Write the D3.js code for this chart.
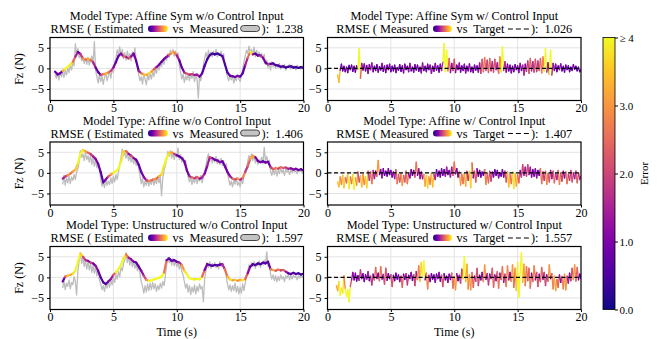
<!DOCTYPE html>
<html>
<head>
<meta charset="utf-8">
<script src="https://cdn.jsdelivr.net/npm/d3@7"></script>
<style>
  body { margin: 0; background: #fff; overflow: hidden }
  text { font-family: 'Liberation Serif', 'Times New Roman', serif; fill: #000 }
</style>
</head>
<body>
<svg id="chart" width="662" height="339"></svg>
<script>
// ---- data ----
const modelTitles = [
  'Model Type: Affine Sym w/o Control Input', 'Model Type: Affine Sym w/ Control Input',
  'Model Type: Affine w/o Control Input', 'Model Type: Affine w/ Control Input',
  'Model Type: Unstructured w/o Control Input', 'Model Type: Unstructured w/ Control Input'
]
const rmseValues = ['1.238', '1.026', '1.406', '1.407', '1.597', '1.557']
const xTicks = [0, 5, 10, 15, 20]
const yTicks = [-5, 0, 5]
const errorTicks = [0, 1, 2, 3, 4]

// start time of each series, sample step 0.2 s (estimated, error) and 0.1 s (measured, controlled)
const estStart = [0.4, 1.0, 1.0]
const measStart = [0.4, 1.0, 1.0]
const ctrlStart = [0.8, 0.8, 0.7]

// Affine Sym w/o control
const symEst = [-0.8, -1.5, -1.2, -0.6, -0.1, 0.4, 0.9, 1.6, 2.8, 4.0,
  3.5, 2.4, 2.1, 2.3, 2.0, 1.5, 0.2, -0.9, -1.6, -1.4,
  -1.3, -1.0, -0.6, 0.2, 1.5, 3.0, 3.6, 2.9, 2.8, 2.4,
  2.9, 3.6, 1.8, -0.6, -1.2, -1.5, -1.6, -1.2, -0.8, -0.2,
  0.3, 0.9, 1.6, 2.3, 2.8, 3.3, 3.8, 3.9, 3.2, 2.0,
  0.2, -1.0, -1.3, -1.5, -1.4, -1.6, -1.5, -2.0, -1.2, 0.6,
  2.2, 3.2, 3.6, 3.4, 3.6, 3.3, 3.0, 1.0, -1.0, -1.8,
  -1.9, -2.1, -1.8, -2.0, -1.2, 0.8, 2.6, 4.0, 3.4, 3.6,
  3.1, 3.2, 2.6, 1.4, 1.0, 1.1, 1.2, 0.8, 0.7, 0.4,
  0.5, 0.2, 0.4, 0.5, 0.2, 0.3, 0.1, 0.3, 0.1]
const symErr = [0.8, 0.8, 0.8, 3.5, 4, 4, 3.8, 2.5, 1.5, 0.8,
  1.8, 3.0, 2.6, 3.2, 2.4, 1.5, 0.8, 0.6, 2.0, 2.8,
  3.3, 2.5, 1.8, 1.0, 0.6, 0.7, 1.2, 2.5, 1.5, 2.2,
  1.2, 0.9, 0.7, 1.5, 2.8, 3.5, 3.2, 3.8, 3.0, 2.2,
  1.2, 0.8, 0.7, 0.9, 1.2, 2.6, 3.4, 2.8, 1.4, 0.7,
  0.8, 1.8, 2.4, 1.6, 2.0, 1.2, 1.4, 0.8, 0.6, 0.5,
  0.4, 0.5, 0.4, 0.3, 0.5, 0.4, 0.6, 0.5, 0.7, 0.9,
  0.6, 0.8, 1.2, 0.6, 0.7, 1.5, 2.5, 4, 1.2, 0.6,
  0.8, 1.6, 1.0, 0.6, 1.8, 0.6, 0.5, 0.6, 0.5, 0.4,
  0.5, 0.3, 0.4, 0.5, 0.3, 0.4, 0.3, 0.4, 0.3]
const symMeas = [-1.5, -2.4, -1.0, -2.8, -1.2, -2.0,
  -0.8, -2.2, -0.5, -1.6, 0.2, -1.0, 0.8, -0.4, 1.5, 0.6,
  6.0, 3.2, 4.8, 2.6, 3.4, 1.8, 2.8, 1.2, 2.5, 1.0,
  2.6, 0.8, 2.2, 3.0, 1.0, 6.5, -0.5, -2.0, -3.6, -1.4,
  -3.2, -1.8, -3.9, -2.2, -1.0, -3.0, -1.8, -0.6, -2.4, -0.2,
  -1.0, 1.4, 2.5, 4.5, 3.2, 5.2, 3.0, 4.6, 2.4, 3.8,
  2.0, 4.2, 2.6, 3.6, 1.8, 4.0, 2.8, 5.0, 1.5, 0.2,
  -1.6, -3.0, -2.0, -3.8, -1.4, -2.6, -4.0, -1.6, -2.8, -1.2,
  -2.6, -0.8, -2.0, 0.0, -1.2, 0.6, -0.4, 1.2, 0.4, 2.0,
  1.0, 2.8, 2.0, 3.6, 2.6, 4.4, 3.4, 4.6, 3.0, 4.2,
  2.6, 3.8, 0.8, -1.0, -2.6, -1.4, -3.4, -1.8, -2.8, -1.2,
  -3.0, -1.6, -2.4, -0.8, -3.2, -1.4, -2.6, -7.2, -1.8, -3.0,
  -1.2, 0.8, 2.4, 3.8, 2.6, 4.4, 3.0, 4.0, 2.8, 4.2,
  3.2, 4.6, 2.8, 3.8, 3.2, 4.2, 2.4, 3.6, 1.0, -0.8,
  -2.0, -3.0, -1.6, -2.8, -1.8, -3.6, -2.2, -3.0, -1.6, -2.6,
  -3.2, -1.8, -0.2, 1.6, 3.0, 4.4, 3.6, 5.4, 3.8, 4.6,
  3.2, 5.2, 2.8, 4.4, 3.0, 4.0, 2.6, 3.6, 2.2, 3.4,
  1.0, 2.0, 0.2, 1.4, -0.4, 1.6, 0.4, 1.2, 0.0, 1.0,
  0.2, 1.2, -0.2, 0.8, 0.0, 1.0, -0.4, 0.6, 0.2, 1.0,
  -0.2, 0.8, 0.0, 0.6, -0.4, 0.8, 0.2, 0.4, -0.2, 0.6,
  0.2]

// Affine w/o control
const affEst = [-1.4, -0.9, -0.6, -0.2, 0.3, 0.8, 2.3, 4.6, 5.6, 5.2,
  4.9, 4.6, 4.0, 3.4, 2.2, 0.2, -2.3, -1.6, -0.9, -0.4,
  0.0, 0.4, 1.0, 2.8, 5.2, 5.3, 4.6, 4.2, 3.6, 3.2,
  2.0, 0.2, -1.0, -1.8, -2.0, -1.8, -1.6, -1.4, -0.8, -0.4,
  1.8, 3.6, 4.8, 5.0, 4.6, 4.3, 4.0, 3.6, 2.8, 0.6,
  -0.8, -1.1, -1.3, -1.0, -1.4, -1.1, -0.2, 1.6, 3.8, 3.6,
  3.2, 3.0, 2.6, 2.8, 1.6, 0.2, -0.8, -1.4, -1.6, -1.4,
  -1.7, -1.2, 0.2, 1.6, 3.4, 4.2, 3.8, 2.9, 2.6, 2.8,
  2.5, 2.7, 1.4, 0.9, 1.2, 1.0, 1.4, 1.2, 1.3, 1.0,
  1.1, 0.8, 1.0, 0.7, 0.9, 0.6]
const affErr = [1.4, 2.0, 3.0, 2.6, 3.2, 3.6, 4, 4, 3.6, 3.0,
  2.4, 1.8, 1.4, 1.0, 0.8, 0.6, 0.7, 1.2, 2.4, 3.2,
  4, 4, 4, 3.8, 3.6, 2.4, 1.2, 2.0, 1.0, 0.8,
  0.7, 0.8, 1.2, 2.2, 2.8, 2.4, 3.0, 2.6, 3.4, 3.8,
  4, 4, 3.6, 3.0, 1.8, 0.9, 0.7, 0.8, 0.9, 0.8,
  1.6, 2.6, 1.8, 2.4, 1.2, 1.6, 1.0, 1.4, 2.0, 1.0,
  0.8, 0.9, 1.2, 0.8, 0.9, 1.0, 1.4, 2.6, 2.0, 3.0,
  1.6, 2.8, 1.8, 2.4, 3.2, 3.0, 1.0, 0.8, 0.9, 0.7,
  0.8, 0.9, 1.8, 2.4, 2.8, 2.0, 2.6, 2.2, 1.8, 1.4,
  1.0, 1.2, 0.9, 0.8, 0.7, 0.8]
const affMeas = [-2.8, -0.6, -3.0, -1.2, -2.4, -0.8, -2.6, -1.0, -1.8, -0.4,
  -1.6, 0.2, 1.0, 2.6, 5.4, 3.8, 4.6, 3.0, 5.0, 3.2,
  4.2, 2.6, 4.4, 2.0, 3.8, 1.6, 3.2, 1.2, 2.4, 0.6,
  -1.4, -3.2, -2.2, -3.6, -1.6, -3.0, -2.0, -2.8, -1.2, -2.6,
  -0.8, -2.2, -0.4, -1.6, 0.2, 2.0, 3.6, 5.8, 4.2, 5.0,
  3.6, 4.8, 3.0, 4.4, 2.6, 3.8, 2.2, 3.4, 1.8, 3.0,
  1.0, -0.6, -2.6, -1.4, -3.4, -2.0, -3.0, -1.6, -3.2, -2.0,
  -2.8, -1.4, -3.0, -1.6, -2.6, -1.0, -2.4, -0.8, -5.6, -1.2,
  0.6, 1.8, 3.4, 5.2, 4.0, 5.4, 3.6, 4.8, 3.2, 4.6,
  3.8, 6.0, 3.2, 4.4, 2.6, 3.8, 2.0, 3.0, 0.4, -1.0,
  -2.2, -1.0, -2.8, -1.4, -2.4, -0.8, -2.6, -1.2, -2.0, -0.6,
  -2.4, -1.0, 0.2, 1.8, 3.6, 4.6, 2.8, 3.8, 2.4, 3.6,
  2.6, 4.0, 2.2, 3.4, 2.0, 3.6, 1.8, 3.0, 1.2, 2.2,
  0.0, -1.6, -3.0, -2.0, -3.4, -1.8, -2.8, -1.2, -3.0, -2.2,
  -3.4, -1.6, -2.6, -0.8, 0.6, 1.2, 2.8, 4.2, 3.4, 4.6,
  3.0, 4.0, 2.4, 3.6, 2.0, 3.2, 2.6, 3.8, 2.2, 6.2,
  2.8, 4.0, 2.4, 3.0, 0.4, -0.6, 0.8, -0.4, 1.0, -0.8,
  0.6, -0.2, 1.2, 0.0, 0.8, -0.6, 1.0, 0.2, 0.6, -0.4,
  0.8, 0.0, 1.0, 0.2, 0.6, -0.2, 0.8, 0.4, 0.6, 0.0,
  0.4]

// Unstructured w/o control
const unsEst = [-1.0, 0.2, 0.4, 0.6, 0.9, 1.6, 3.8, 5.8, 5.0, 4.2,
  4.0, 3.6, 3.4, 2.8, 1.6, 0.0, -1.2, -1.6, -1.0, -0.4,
  0.6, 1.2, 2.0, 3.0, 4.6, 5.6, 4.8, 4.4, 3.8, 3.6,
  2.6, 1.6, 0.4, -0.6, -0.9, -0.7, -0.5, -0.3, -0.1, 0.2,
  1.2, 4.2, 4.6, 4.0, 4.2, 3.8, 3.6, 3.0, 1.6, 0.8,
  -0.2, -0.4, -0.5, -0.4, -0.5, 0.2, 1.8, 3.2, 3.0, 2.8,
  3.0, 2.9, 3.1, 3.2, 2.0, 0.2, -0.5, -0.7, -0.6, -0.8,
  -0.6, -0.7, -0.4, 1.0, 2.6, 3.2, 3.0, 3.4, 3.2, 3.6,
  3.4, 3.8, 2.0, 1.8, 1.6, 1.9, 1.7, 1.8, 1.4, 1.0,
  0.8, 1.1, 0.8, 1.0, 0.7, 0.9]
const unsErr = [0.8, 2.8, 3.6, 3.2, 3.8, 4, 4, 3.6, 2.0, 1.6,
  1.2, 2.0, 0.9, 1.2, 0.8, 0.6, 0.5, 0.6, 1.0, 1.4,
  2.4, 4, 4, 4, 3.8, 2.6, 1.4, 1.2, 0.8, 0.7,
  0.8, 1.2, 2.0, 3.0, 4, 4, 4, 4, 4, 4,
  2.6, 0.8, 0.6, 0.8, 0.7, 0.9, 1.6, 3.0, 3.8, 4,
  4, 4, 3.8, 4, 4, 2.4, 1.0, 0.7, 0.5, 0.6,
  0.5, 0.6, 0.7, 1.6, 2.6, 3.4, 3.8, 3.0, 3.6, 2.8,
  3.4, 3.8, 2.4, 1.2, 0.6, 0.5, 0.6, 0.4, 0.5, 0.6,
  0.5, 0.7, 2.6, 3.2, 2.2, 2.8, 1.8, 2.4, 1.2, 0.6,
  0.5, 0.6, 0.5, 0.4, 0.5, 0.4]
const unsMeas = [-2.6, -0.8, -3.0, -1.4, -2.2, -0.6, -2.8, -1.2, -1.8, 0.2,
  -1.0, -4.3, 1.6, 4.0, 6.0, 3.4, 5.0, 2.6, 4.2, 2.0,
  3.8, 1.8, 3.4, 1.2, 3.0, 1.0, 2.6, 0.4, 1.6, -0.6,
  -1.6, -3.0, -2.0, -3.4, -1.6, -2.6, -1.0, -2.4, -0.6, -1.8,
  0.0, -1.2, 0.6, -0.4, 1.4, 0.2, 2.4, 1.6, 3.4, 4.2,
  6.0, 3.6, 5.0, 3.0, 4.4, 2.6, 3.8, 2.2, 3.4, 1.6,
  2.8, 0.8, -1.0, -2.2, -3.8, -2.0, -3.6, -1.6, -3.2, -1.4,
  -3.0, -1.2, -2.8, -1.6, -3.4, -2.0, -3.0, -1.4, -2.6, -1.0,
  -2.0, 0.4, 3.0, 4.8, 3.6, 4.4, 3.0, 4.6, 2.8, 4.0,
  2.6, 3.6, 2.0, 3.2, 1.4, 0.6, -1.0, -2.6, -1.6, -3.6,
  -2.0, -4.2, -2.4, -3.6, -1.8, -4.0, -2.2, -3.4, -1.6, -2.8,
  -2.2, -5.9, -0.4, 1.6, 3.6, 2.4, 3.8, 2.2, 3.4, 2.6,
  3.6, 2.4, 3.2, 2.0, 3.8, 2.6, 3.4, 2.2, 1.6, 0.4,
  -1.6, -3.0, -1.8, -3.4, -2.0, -3.2, -1.4, -3.6, -2.2, -4.0,
  -2.4, -3.8, -1.6, -3.2, -1.4, 0.2, 1.4, 3.0, 2.4, 3.6,
  2.6, 3.8, 2.2, 3.4, 2.8, 4.0, 2.4, 3.6, 3.0, 4.2,
  3.2, 6.2, 2.6, 3.4, 0.8, -0.4, 0.6, -0.8, 0.4, -1.0,
  0.2, -0.8, 0.6, -0.4, 0.2, -1.0, 0.4, -0.2, 0.8, -0.6,
  0.4, -0.4, 0.6, 0.0, 0.2, -0.6, 0.4, -0.2, 0.6, 0.0,
  0.2]

// w/ control input: measured minus target (target = 0)
const symCtrl = [-1.6, -3.4, -0.4, 1.0, -0.6, 0.5, -0.8, 0.3, -1.0, 0.7,
  -0.3, 0.8, -0.7, 0.5, -0.9, 0.6, -0.2, 4.8, -2.4, 1.2,
  -0.4, 1.1, -0.6, 0.7, -1.2, 0.9, -0.3, 1.3, -0.8, 0.5,
  -0.5, 0.9, -0.9, 0.4, -0.4, 1.2, -0.7, 0.6, -1.0, 0.8,
  -0.3, 1.0, -0.8, 0.5, -0.6, 0.8, -1.0, 0.2, -0.4, 0.9,
  -0.7, 0.6, -1.1, 1.0, -0.3, 0.5, -0.8, 1.2, -0.6, 0.3,
  -0.9, 0.9, -0.4, 0.8, -0.7, 0.3, -1.1, 1.3, -0.5, 0.5,
  -0.8, 1.0, -0.3, 0.8, -1.2, 0.5, -0.7, 1.2, -0.4, 0.6,
  -0.9, 1.0, -0.5, 1.6, 6.0, -0.8, 4.4, -0.6, 2.4, -1.0,
  1.2, -0.5, 2.2, -1.0, 0.8, -0.3, 1.3, -0.9, 0.6, -0.5,
  1.0, -1.1, 0.5, -0.6, 1.1, -0.8, 0.3, -1.0, 0.8, -0.4,
  0.6, -0.9, 1.3, -1.2, 2.2, -0.8, 2.6, -0.5, 2.0, -1.0,
  2.4, -0.6, 1.6, -0.9, 2.2, -0.3, 1.4, -1.2, 2.8, -0.8,
  5.2, -0.5, 1.6, -0.9, 1.0, -0.6, 0.8, -1.1, 0.5, -0.8,
  0.9, -0.3, 0.6, -1.0, 1.2, -0.5, 0.8, -1.6, 1.0, -0.7,
  1.8, -1.2, 2.4, -0.6, 1.6, -0.9, 2.2, -0.8, 1.8, -0.5,
  2.4, -1.1, 2.8, -0.6, 4.8, -0.9, 1.4, -1.4, 4.4, -1.6,
  1.2, -0.5, 1.0, -0.8, 0.6, -0.3, 1.1, -0.6, 0.5, -0.9,
  0.8, -0.3, 0.6, -0.8, 0.3, -0.5, 0.9, -0.2, 0.5, -0.6,
  0.3, -0.8, -0.3]
const affCtrl = [-2.2, -3.4, -1.0, -2.8, -0.6, -3.6, -1.2, -2.4, -0.2, -3.8,
  -1.0, -2.6, -0.4, -4.0, -1.2, -3.0, 0.2, -2.2, -0.8, -3.4,
  -0.4, -2.8, -1.0, -3.6, 0.4, -1.8, 0.2, -2.6, 0.6, -1.4,
  0.4, -0.8, 3.0, -0.4, 0.8, -1.2, 1.0, -0.6, 0.4, -0.8,
  1.0, -0.4, 0.6, -1.0, 0.2, -1.4, 0.8, -2.6, -0.4, -2.2,
  -0.2, -3.0, -0.6, -2.2, 0.4, -2.6, -0.2, -1.2, 0.8, -0.6,
  0.6, -1.0, 2.6, -0.6, 1.0, -1.4, 0.2, -1.4, -0.4, -3.2,
  -0.6, -3.6, -1.0, -2.8, -0.2, -3.4, -0.4, -1.6, 0.8, -0.8,
  0.4, -1.0, 1.0, -0.6, 0.8, -0.8, 1.4, -0.4, 0.6, -1.0,
  1.4, -0.6, 2.6, -0.2, 1.0, -1.0, 0.2, -3.0, -0.4, -2.6,
  -0.2, -3.2, 0.4, -1.8, 0.2, -3.6, 2.4, -1.2, 0.4, -2.2,
  1.0, -0.8, 0.6, -1.0, 0.2, -0.6, 0.8, -2.8, -0.2, -2.4,
  0.4, -2.0, 0.2, -1.0, 0.8, -0.6, 0.6, -1.2, 0.0, -0.8,
  0.8, -1.0, 0.4, -2.2, 0.2, -3.4, -0.4, -2.6, 0.2, -3.8,
  -0.2, -3.2, -0.4, -2.4, 0.6, -1.0, 2.0, -0.6, 1.4, -0.8,
  2.0, -0.4, 1.4, -1.0, 0.8, -0.8, 1.0, -1.2, 0.6, -0.6,
  1.0, -2.6, 0.2, -1.8, 0.4, -2.8, -0.2, -2.2, 0.6, -1.4,
  0.4, -2.4, -0.2, -1.6, 0.6, -2.8, 0.0, -2.0, 0.4, -1.2,
  0.2, -2.6, -0.4, -1.8, 0.6, -2.2, 0.0, -1.4, 0.4, -2.4,
  0.0, -1.6, -0.8]
const unsCtrl = [-2.0, -3.2, -1.0, -4.4, -2.6, -3.8, 0.4, -2.8, -4.6, -3.0,
  -5.9, -2.2, -0.6, 1.2, -0.6, 1.0, -0.9, 0.4, -0.7, 1.8,
  -0.3, 0.9, -1.0, 0.6, -0.4, 1.4, -0.8, 0.3, -1.8, 0.8,
  -0.6, 2.4, -0.3, 1.0, -0.8, 2.6, -0.4, 0.7, -1.6, 2.2,
  -0.7, 0.9, -0.3, 0.6, -2.2, 0.5, -0.8, 1.0, -0.4, 0.6,
  -1.0, 0.3, -2.4, 0.8, -0.5, 0.9, -1.8, 0.5, -0.3, 1.2,
  -0.7, 0.6, -2.0, 1.4, -0.5, 2.8, -0.9, 3.6, 0.4, 4.0,
  -0.6, 1.0, -2.8, 0.5, -1.0, 0.9, -0.4, 0.6, -1.2, 0.8,
  -0.3, 1.2, -0.9, 0.5, -2.2, 0.9, -0.6, 0.3, -1.2, 0.8,
  -0.5, 1.0, -2.6, 0.2, -3.0, 0.9, -0.8, 0.5, -1.4, 2.0,
  -0.3, 5.0, -1.0, 3.2, -2.8, 0.6, -3.0, 1.2, -2.4, 0.3,
  -0.9, 2.2, -2.0, 0.5, -0.6, 1.2, -1.0, 3.0, -0.5, 0.9,
  -1.8, 0.8, -0.3, 2.2, -2.4, 0.6, -0.8, 1.4, -2.6, 1.0,
  -0.5, 2.6, -1.2, 0.8, -2.2, 2.8, -0.6, 1.2, -0.9, 3.0,
  -2.4, 2.2, -3.2, 3.6, -4.8, 1.0, 6.0, -1.2, 3.2, -2.0,
  2.6, -0.8, 2.2, -2.6, 1.0, -1.0, 2.8, -0.6, 1.2, -2.2,
  0.8, -1.0, 2.4, -0.5, 1.2, -2.0, 0.6, -0.9, 3.0, -0.3,
  0.9, -2.8, 0.3, -3.2, -0.5, -2.4, 0.6, -1.2, 0.2, -2.8,
  0.8, -3.0, 0.3, -1.4, 1.0, -0.8, 2.2, -0.5, 3.0, -0.9,
  2.4, -0.6, 0.8, -0.3]

// ---- layout ----
const svg = d3.select('#chart')
const colX = [50, 327.5]
const rowY = [37.5, 142, 246.5]
const pw = 253.5
const ph = 63
const errMax = 4
const color = v => d3.interpolatePlasma(Math.min(Math.abs(v), errMax) / errMax)
const titleSize = 12.3

let defs = svg.append('defs')
let gradH = defs.append('linearGradient').attr('id', 'plasmaH')
let gradV = defs.append('linearGradient').attr('id', 'plasmaV')
  .attr('x1', 0).attr('y1', 1).attr('x2', 0).attr('y2', 0)
d3.range(0, 1.0001, 0.05).forEach(s => {
  gradH.append('stop').attr('offset', s).attr('stop-color', d3.interpolatePlasma(s))
  gradV.append('stop').attr('offset', s).attr('stop-color', d3.interpolatePlasma(s))
})

const estList = [symEst, affEst, unsEst]
const errList = [symErr, affErr, unsErr]
const measList = [symMeas, affMeas, unsMeas]
const ctrlList = [symCtrl, affCtrl, unsCtrl]

function drawTitle (g, row, col) {
  let idx = row * 2 + col
  g.append('text').attr('x', pw / 2).attr('y', -17.5).attr('text-anchor', 'middle')
    .attr('font-size', titleSize).text(modelTitles[idx])
  let line = g.append('g')
  // [kind, content, gap after]
  let pieces = col === 0
    ? [['t', 'RMSE ( Estimated', 4.5], ['plasma', 20, 4.5], ['t', 'vs  Measured', 2], ['gray', 20, 1.5], ['t', '):  ' + rmseValues[idx], 0]]
    : [['t', 'RMSE ( Measured', 4.5], ['plasma', 19, 4.5], ['t', 'vs  Target', 3.5], ['dash', 21, 2], ['t', '):  ' + rmseValues[idx], 0]]
  let cursor = 0
  pieces.forEach(p => {
    if (p[0] === 'plasma') {
      line.append('rect').attr('x', cursor).attr('y', -7.5).attr('width', p[1]).attr('height', 6.5)
        .attr('rx', 3.25).attr('fill', 'url(#plasmaH)')
      cursor += p[1]
    } else if (p[0] === 'gray') {
      line.append('rect').attr('x', cursor + 0.5).attr('y', -7.5).attr('width', p[1] - 1).attr('height', 6)
        .attr('rx', 3).attr('fill', '#c4c4c4').attr('stroke', '#333').attr('stroke-width', 0.9)
      cursor += p[1]
    } else if (p[0] === 'dash') {
      line.append('line').attr('x1', cursor).attr('x2', cursor + p[1]).attr('y1', -4).attr('y2', -4)
        .attr('stroke', '#000').attr('stroke-width', 1.1).attr('stroke-dasharray', '5,3')
      cursor += p[1]
    } else {
      let t = line.append('text').attr('x', cursor).attr('font-size', titleSize)
        .style('white-space', 'pre').text(p[1])
      cursor += t.node().getComputedTextLength()
    }
    cursor += p[2]
  })
  line.attr('transform', 'translate(' + (pw / 2 - cursor / 2) + ',-4.5)')
}

function drawPanel (row, col) {
  let g = svg.append('g').attr('transform', 'translate(' + colX[col] + ',' + rowY[row] + ')')
  let x = d3.scaleLinear().domain([0, 20]).range([0, pw])
  let y = d3.scaleLinear().domain([-7.8, 7.5]).range([ph, 0])
  let clipId = 'clip' + row + col
  defs.append('clipPath').attr('id', clipId).append('rect').attr('width', pw).attr('height', ph)

  // grid
  g.append('g').selectAll('line').data(xTicks.slice(1, -1)).enter().append('line')
    .attr('x1', d => x(d)).attr('x2', d => x(d)).attr('y1', 0).attr('y2', ph)
    .attr('stroke', '#e3e3e3').attr('stroke-width', 1)
  g.append('g').selectAll('line').data(yTicks).enter().append('line')
    .attr('y1', d => y(d)).attr('y2', d => y(d)).attr('x1', 0).attr('x2', pw)
    .attr('stroke', '#e3e3e3').attr('stroke-width', 1)

  let plot = g.append('g').attr('clip-path', 'url(#' + clipId + ')')
  if (col === 0) {
    let meas = measList[row]
    let t0m = measStart[row]
    plot.append('path')
      .datum(meas)
      .attr('d', d3.line().x((d, i) => x(t0m + i * 0.1)).y(d => y(d)))
      .attr('fill', 'none').attr('stroke', '#bdbdbd').attr('stroke-width', 1.3)
      .attr('stroke-linejoin', 'round')
    let est = estList[row]
    let err = errList[row]
    let t0 = estStart[row]
    plot.append('g').selectAll('line').data(d3.range(est.length - 1)).enter().append('line')
      .attr('x1', i => x(t0 + i * 0.2)).attr('x2', i => x(t0 + (i + 1) * 0.2))
      .attr('y1', i => y(est[i])).attr('y2', i => y(est[i + 1]))
      .attr('stroke', i => color(err[i])).attr('stroke-width', 2.2).attr('stroke-linecap', 'round')
  } else {
    let v = ctrlList[row]
    let t0 = ctrlStart[row]
    plot.append('g').selectAll('line').data(d3.range(v.length - 1)).enter().append('line')
      .attr('x1', i => x(t0 + i * 0.1)).attr('x2', i => x(t0 + (i + 1) * 0.1))
      .attr('y1', i => y(v[i])).attr('y2', i => y(v[i + 1]))
      .attr('stroke', i => color(Math.max(Math.abs(v[i]), Math.abs(v[i + 1]))))
      .attr('stroke-width', 1.4).attr('stroke-linecap', 'round')
    plot.append('line').attr('x1', x(0)).attr('x2', x(20)).attr('y1', y(0)).attr('y2', y(0))
      .attr('stroke', '#000').attr('stroke-width', 1.2).attr('stroke-dasharray', '4,2.5')
  }

  // axes
  let xAxis = d3.axisBottom(x).tickValues(xTicks).tickSize(2.5).tickPadding(0.5)
  let ax = g.append('g').attr('transform', 'translate(0,' + ph + ')').call(xAxis)
  let yAxis = d3.axisLeft(y).tickValues(yTicks).tickSize(3).tickPadding(3)
  let ay = g.append('g').call(yAxis)
  ;[ax, ay].forEach(a => {
    a.select('.domain').remove()
    a.selectAll('text').attr('font-size', 12).attr('font-family', "'Liberation Serif', serif").attr('fill', '#000')
  })

  g.append('rect').attr('width', pw).attr('height', ph).attr('fill', 'none')
    .attr('stroke', '#000').attr('stroke-width', 1.2)

  if (col === 0) {
    g.append('text').attr('transform', 'translate(-27,' + ph / 2 + ') rotate(-90)')
      .attr('text-anchor', 'middle').attr('font-size', 12).text('Fz (N)')
  }
  if (row === 2) {
    g.append('text').attr('x', pw / 2).attr('y', ph + 26.5).attr('text-anchor', 'middle')
      .attr('font-size', 12).text('Time (s)')
  }
  drawTitle(g, row, col)
}

for (let r = 0; r < 3; r++) {
  for (let c = 0; c < 2; c++) drawPanel(r, c)
}

// colorbar
let cbX = 603
let cbTop = 37.5
let cbBot = 309.5
let cb = svg.append('g').attr('transform', 'translate(' + cbX + ',0)')
cb.append('rect').attr('y', cbTop).attr('width', 12).attr('height', cbBot - cbTop)
  .attr('fill', 'url(#plasmaV)').attr('stroke', '#000').attr('stroke-width', 0.8)
let cScale = d3.scaleLinear().domain([0, errMax]).range([cbBot, cbTop])
let cAxis = cb.append('g').attr('transform', 'translate(12,0)')
  .call(d3.axisRight(cScale).tickValues(errorTicks).tickSize(3).tickPadding(1.5)
    .tickFormat(d => d === errMax ? '\u2265 4' : d.toFixed(1)))
cAxis.select('.domain').remove()
cAxis.selectAll('text').attr('font-size', 11).attr('font-family', "'Liberation Serif', serif").attr('fill', '#000')
svg.append('text').attr('transform', 'translate(648,' + (cbTop + cbBot) / 2 + ') rotate(-90)')
  .attr('text-anchor', 'middle').attr('font-size', 11).text('Error')
</script>
</body>
</html>
